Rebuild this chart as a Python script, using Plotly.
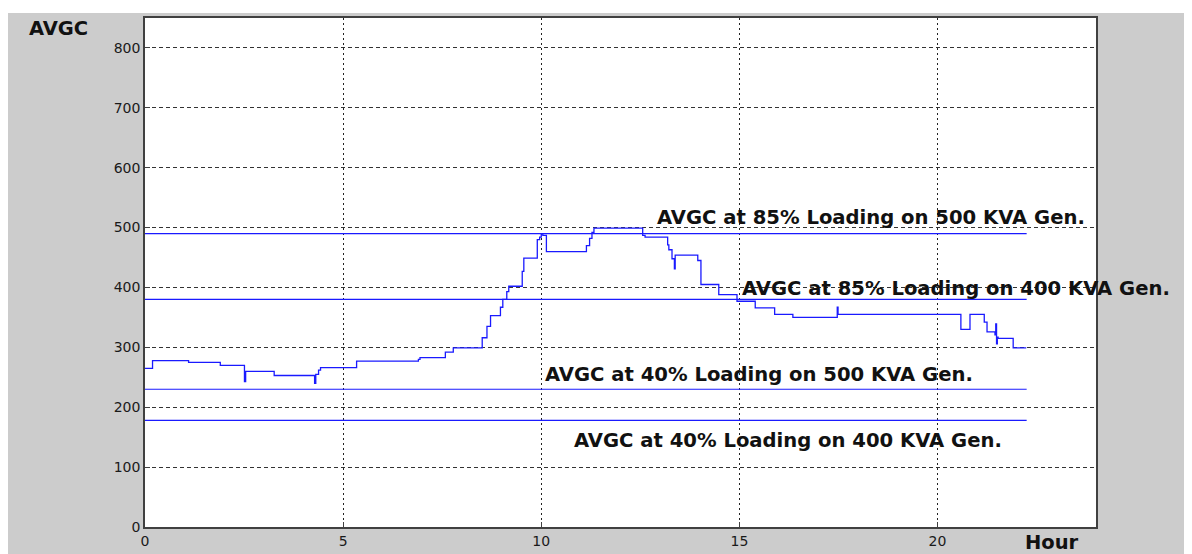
import plotly.graph_objects as go

# ---- data ----
hours = [0.00, 0.19, 1.10, 1.90, 2.51, 2.54, 3.26, 4.28, 4.31, 4.38, 4.43, 5.34, 6.90, 6.94,
         7.58, 7.78, 8.51, 8.63, 8.72, 8.97, 9.03, 9.13, 9.18, 9.52, 9.56, 9.90, 9.96, 10.00,
         10.04, 10.13, 11.14, 11.22, 11.28, 11.33, 12.56, 12.62, 13.19, 13.22, 13.30, 13.36,
         13.38, 13.95, 14.03, 14.48, 14.94, 15.40, 15.89, 16.35, 17.47, 17.49, 20.59, 20.82,
         21.18, 21.25, 21.45, 21.47, 21.49, 21.51, 21.53, 21.91, 22.24]
avgc = [265, 278, 275, 270, 243, 260, 253, 240, 255, 262, 266, 277, 280, 283,
        292, 299, 316, 335, 353, 367, 380, 393, 402, 427, 449, 480, 484, 490,
        487, 460, 470, 482, 492, 499, 487, 484, 471, 463, 448, 431,
        454, 445, 405, 388, 377, 366, 355, 350, 367, 355, 330, 355,
        342, 326, 321, 339, 306, 317, 315, 299, 299]

ref_labels = ["AVGC at 85% Loading on 500 KVA Gen.",
              "AVGC at 85% Loading on 400 KVA Gen.",
              "AVGC at 40% Loading on 500 KVA Gen.",
              "AVGC at 40% Loading on 400 KVA Gen."]
ref_values = [490, 380, 230, 178]
ref_end_hour = 22.25
label_hours = [12.86, 15.01, 10.04, 10.78]
label_values = [517, 399, 255, 145]

x_ticks = [0, 5, 10, 15, 20]
y_ticks = [0, 100, 200, 300, 400, 500, 600, 700, 800]

BLUE = "#1a1aff"
FONT = "DejaVu Sans"

fig = go.Figure()
fig.add_trace(go.Scatter(x=hours, y=avgc, mode="lines", line=dict(color=BLUE, width=1.3, shape="hv"),
                         showlegend=False, hoverinfo="skip"))
for v in ref_values:
    fig.add_trace(go.Scatter(x=[0, ref_end_hour], y=[v, v], mode="lines",
                             line=dict(color=BLUE, width=1.2), showlegend=False, hoverinfo="skip"))

annotations = []
for t, hx, vy in zip(ref_labels, label_hours, label_values):
    annotations.append(dict(x=hx, y=vy, xref="x", yref="y", text="<b>%s</b>" % t, showarrow=False,
                            xanchor="left", yanchor="middle",
                            font=dict(family=FONT, size=19.6, color="#111111")))
annotations.append(dict(x=-0.1241, y=0.980, xref="paper", yref="paper", text="<b>AVGC</b>",
                        showarrow=False, xanchor="left", yanchor="middle",
                        font=dict(family=FONT, size=19.5, color="#111111")))
annotations.append(dict(x=0.9537, y=-0.031, xref="paper", yref="paper", text="<b>Hour</b>",
                        showarrow=False, xanchor="center", yanchor="middle",
                        font=dict(family=FONT, size=19.5, color="#111111")))

shapes = [
    dict(type="rect", xref="paper", yref="paper", x0=-0.2, x1=1.2, y0=1.0098, y1=1.03,
         fillcolor="white", line=dict(width=0), layer="above"),
]

fig.update_layout(
    width=1192, height=554, autosize=False,
    margin=dict(l=137, r=104, t=8, b=35, pad=0),
    paper_bgcolor="#cccccc", plot_bgcolor="white",
    annotations=annotations, shapes=shapes,
    font=dict(family=FONT, size=14, color="#1a1a1a"),
)
fig.update_xaxes(range=[0, 24], tickvals=x_ticks, ticktext=[str(t) for t in x_ticks],
                 showgrid=True, gridcolor="#222222", gridwidth=1, griddash="2px,3px",
                 showline=True, linecolor="#404040", linewidth=1.5, mirror=True,
                 ticks="inside", ticklen=5, tickcolor="#404040", zeroline=False,
                 tickfont=dict(family=FONT, size=14, color="#1a1a1a"))
fig.update_yaxes(range=[0, 850], tickvals=y_ticks, ticktext=[str(t) for t in y_ticks],
                 showgrid=True, gridcolor="#333333", gridwidth=1, griddash="4px,3px",
                 showline=True, linecolor="#404040", linewidth=1.5, mirror=True,
                 ticks="inside", ticklen=5, tickcolor="#404040", zeroline=False,
                 tickfont=dict(family=FONT, size=14, color="#1a1a1a"))

fig.write_html("out.html")
